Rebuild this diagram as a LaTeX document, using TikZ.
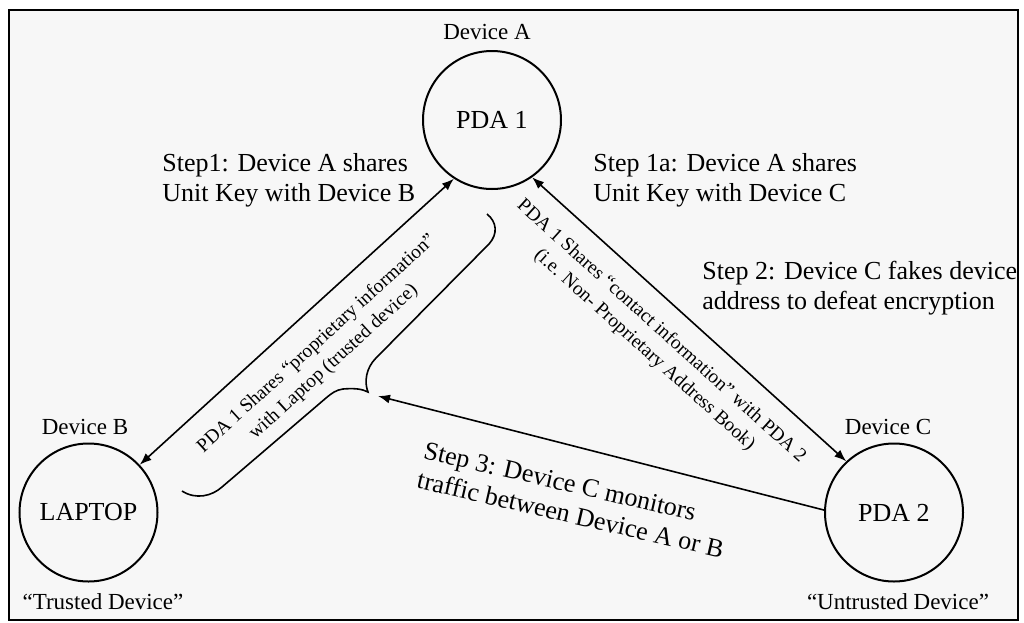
\documentclass[tikz,border=0pt]{standalone}
\usepackage{fontspec}
\setmainfont{Liberation Serif}
\usetikzlibrary{arrows.meta}
\definecolor{paper}{RGB}{247,247,247}

\begin{document}
\begin{tikzpicture}[x=0.5pt,y=-0.5pt,
  dev/.style={draw,circle,line width=1pt,minimum size=69pt,inner sep=0pt,font=\fontsize{13}{15}\selectfont},
  devname/.style={font=\fontsize{11.5}{13}\selectfont},
  steptxt/.style={align=left,inner sep=0pt,font=\fontsize{13}{15}\selectfont},
  sharetxt/.style={align=center,sloped,inner sep=1pt,font=\fontsize{9.7}{12.5}\selectfont},
  link/.style={line width=0.8pt,{Latex[length=6pt,width=4.5pt]}-{Latex[length=6pt,width=4.5pt]}}]
\useasboundingbox (0,0) rectangle (1024,622);
% frame
\draw[fill=paper,line width=1pt] (9,10) rectangle (1018,620);
% devices
\node[dev] (pda1) at (492,120) {PDA 1};
\node[dev] (laptop) at (88.5,512.5) {LAPTOP};
\node[dev] (pda2) at (894,512.5) {PDA 2};
\node[devname] (devA) at (487,32) {Device A};
\node[devname] (devB) at (85,427) {Device B};
\node[devname] (devC) at (888,427) {Device C};
\node[devname] (trusted) at (103,602) {“Trusted Device”};
\node[devname] (untrusted) at (898,602) {“Untrusted Device”};
% steps
\node[steptxt,anchor=west] (step1) at (162,180) {Step1: Device A shares\\Unit Key with Device B};
\node[steptxt,anchor=west] (step1a) at (593,180) {Step 1a: Device A shares\\Unit Key with Device C};
\node[steptxt,anchor=west] (step2) at (702,288) {Step 2: Device C fakes device\\address to defeat encryption};
\node[steptxt,rotate=-13] (step3) at (574,500) {Step 3: Device C monitors\\traffic between Device A or B};
% key sharing
\draw[link] (laptop.43) -- (pda1.237) node[sharetxt,midway,below=9pt] {PDA 1 Shares “proprietary information”\\with Laptop (trusted device)};
\draw[link] (pda1.-55) -- (pda2.133) node[sharetxt,pos=0.47,below=8pt] {PDA 1 Shares “contact information” with PDA 2\\(i.e. Non- Proprietary Address Book)};
% brace over A--B traffic
\draw[line width=0.8pt] (487,214) .. controls (497,222) and (498,234) .. (489,244) -- (376,358)
  .. controls (366,368) and (364,382) .. (368,392)
  .. controls (362,389) and (355,388) .. (343,389)
  .. controls (336,390) and (332,393) .. (326,398) -- (222,487)
  .. controls (212,496) and (196,500) .. (182,491);
% monitoring
\coordinate (watch) at (378,396);
\draw[line width=0.8pt,-{Latex[length=6pt,width=4.5pt]}] (pda2.178) -- (watch);
\end{tikzpicture}
\end{document}
